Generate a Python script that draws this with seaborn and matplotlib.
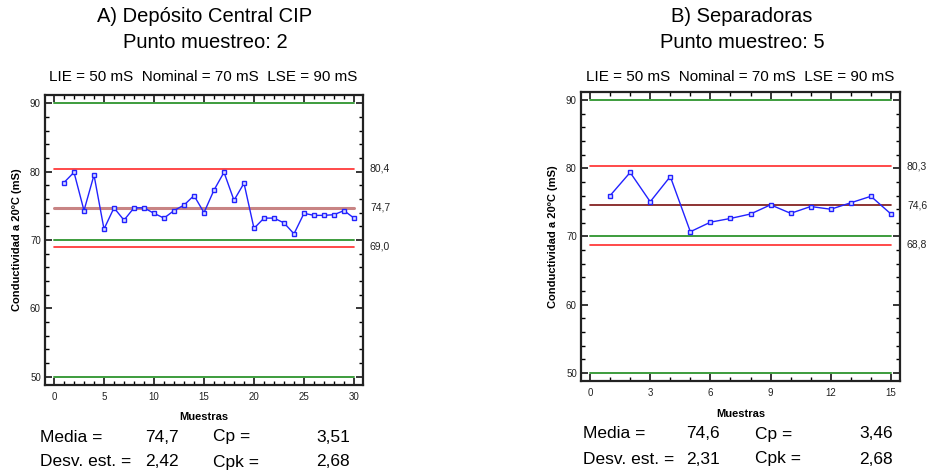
import numpy as np
import matplotlib
matplotlib.use("Agg")
import matplotlib.pyplot as plt
import seaborn as sns
from matplotlib.ticker import MultipleLocator

sns.set_style("ticks")
plt.rcParams['font.family'] = ['Liberation Sans', 'DejaVu Sans']
plt.rcParams['text.color'] = 'black'

# A) Depósito Central CIP - punto 2
muestras_a = list(range(1, 31))
cond_a = [78.4, 79.9, 74.3, 79.5, 71.6, 74.7, 72.9, 74.7, 74.7, 73.9,
          73.2, 74.3, 75.1, 76.5, 74.0, 77.3, 79.9, 75.8, 78.3, 71.7,
          73.2, 73.2, 72.5, 70.9, 73.9, 73.6, 73.6, 73.7, 74.3, 73.2]
lim_a = {'LCS': 80.4, 'LC': 74.7, 'LCI': 69.0}
stats_a = {'media': '74,7', 'desv': '2,42', 'cp': '3,51', 'cpk': '2,68'}

# B) Separadoras - punto 5
muestras_b = list(range(1, 16))
cond_b = [76.0, 79.4, 75.1, 78.8, 70.7, 72.1, 72.65, 73.3, 74.65, 73.4,
          74.4, 74.0, 74.95, 75.9, 73.3]
lim_b = {'LCS': 80.3, 'LC': 74.6, 'LCI': 68.8}
stats_b = {'media': '74,6', 'desv': '2,31', 'cp': '3,46', 'cpk': '2,68'}

especif = [50, 70, 90]  # LIE, Nominal, LSE

W, H = 928, 474
fig = plt.figure(figsize=(W / 100, H / 100), dpi=100)


def px(x, y):
    return x / W, 1 - y / H


def carta(rect, x, y, lim, n, xstep, center_style):
    ax = fig.add_axes(rect)
    pad = n * 0.03
    ax.set_xlim(-pad, n + pad)
    ax.set_ylim(48.8, 91.2)
    for v in especif:
        ax.plot([0, n], [v, v], color='#3c9c3c', lw=1.4, zorder=2)
    ax.plot([0, n], [lim['LCS']] * 2, color='#ff2a2a', lw=1.2, zorder=2)
    ax.plot([0, n], [lim['LCI']] * 2, color='#ff2a2a', lw=1.2, zorder=2)
    ax.plot([0, n], [lim['LC']] * 2, zorder=2, **center_style)
    sns.lineplot(x=x, y=y, ax=ax, color='#2222ff', lw=1.0, marker='s',
                 markersize=3.5, markerfacecolor='#dde0ff', markeredgecolor='#2222ff',
                 markeredgewidth=1.0, zorder=3)
    ax.xaxis.set_major_locator(MultipleLocator(xstep))
    ax.xaxis.set_minor_locator(MultipleLocator(1))
    ax.yaxis.set_major_locator(MultipleLocator(10))
    ax.yaxis.set_minor_locator(MultipleLocator(2))
    ax.tick_params(which='both', direction='in', top=True, right=True,
                   labelsize=7, color='black', labelcolor='#222222')
    ax.tick_params(axis='x', which='both', pad=5)
    ax.tick_params(axis='y', which='both', pad=3)
    ax.tick_params(which='major', length=5, width=1.1)
    ax.tick_params(which='minor', length=3, width=1.0)
    for s in ax.spines.values():
        s.set_linewidth(1.6)
        s.set_color('#222222')
    for k in ['LCS', 'LC', 'LCI']:
        ax.annotate(f"{lim[k]:.1f}".replace('.', ','), xy=(1, lim[k]),
                    xycoords=('axes fraction', 'data'), xytext=(5, 0),
                    textcoords='offset points', va='center', ha='left',
                    fontsize=7.5, color='#222222')
    ax.set_xlabel('')
    ax.set_ylabel('')
    return ax


# posiciones de los ejes en px
axA = (45, 95, 363, 385)
axB = (581, 92, 900, 381)


def rect(b):
    x0, y0, x1, y1 = b
    return [x0 / W, 1 - y1 / H, (x1 - x0) / W, (y1 - y0) / H]


carta(rect(axA), muestras_a, cond_a, lim_a, 30, 5,
      dict(color='#c88484', lw=2.2))
carta(rect(axB), muestras_b, cond_b, lim_b, 15, 3,
      dict(color='#7a1010', lw=1.2))

titulos = [("A) Depósito Central CIP", "Punto muestreo: 2", 205),
           ("B) Separadoras", "Punto muestreo: 5", 742)]
for t1, t2, cx in titulos:
    fig.text(*px(cx, 17), t1, ha='center', va='center', fontsize=14.5)
    fig.text(*px(cx, 43), t2, ha='center', va='center', fontsize=14.5)
    fig.text(*px(cx - 2, 77), "LIE = 50 mS  Nominal = 70 mS  LSE = 90 mS",
             ha='center', va='center', fontsize=11)

for b, ycen in [(axA, 417), (axB, 414)]:
    x0, y0, x1, y1 = b
    fig.text(*px((x0 + x1) / 2, ycen), "Muestras", ha='center', va='center',
             fontsize=8, fontweight='bold')
    fig.text(*px(x0 - 28, (y0 + y1) / 2), "Conductividad a 20ºC (mS)",
             ha='center', va='center', rotation=90, fontsize=8,
             fontweight='bold')

for st, (xl, xv, xc, xcv), (y1, y2) in [
        (stats_a, (40, 179, 213, 350), (437, 462)),
        (stats_b, (583, 720, 755, 893), (434, 459))]:
    fig.text(*px(xl, y1), "Media =", ha='left', va='center', fontsize=12.5)
    fig.text(*px(xv, y1), st['media'], ha='right', va='center', fontsize=12.5)
    fig.text(*px(xc, y1), "Cp =", ha='left', va='center', fontsize=12.5)
    fig.text(*px(xcv, y1), st['cp'], ha='right', va='center', fontsize=12.5)
    fig.text(*px(xl, y2), "Desv. est. =", ha='left', va='center', fontsize=12.5)
    fig.text(*px(xv, y2), st['desv'], ha='right', va='center', fontsize=12.5)
    fig.text(*px(xc, y2), "Cpk =", ha='left', va='center', fontsize=12.5)
    fig.text(*px(xcv, y2), st['cpk'], ha='right', va='center', fontsize=12.5)

fig.savefig('out.png', dpi=100)
